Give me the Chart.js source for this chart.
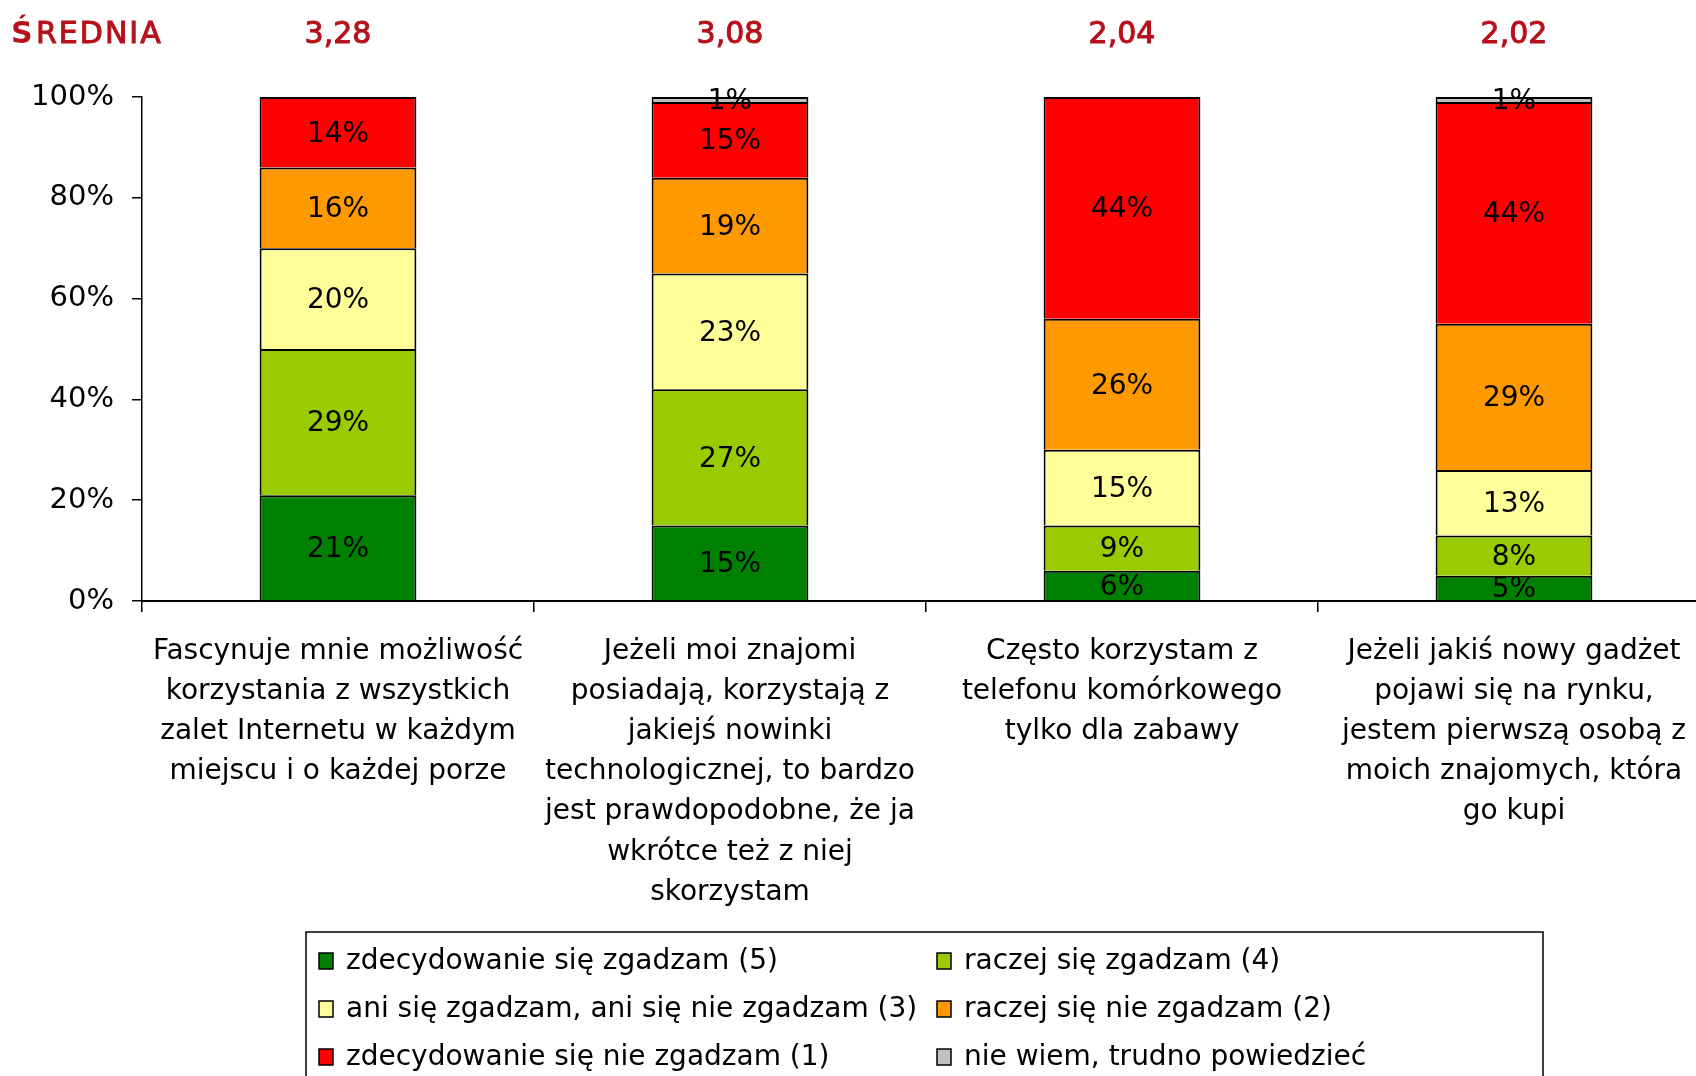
<!DOCTYPE html>
<html lang="pl">
<head>
    <meta charset="UTF-8">
    <title>Średnia - stosunek do nowych technologii</title>
    <script src="https://cdn.jsdelivr.net/npm/chart.js"></script>
    <style>
        html, body { margin: 0; padding: 0; background: #fff; overflow: hidden; }
        .chart-wrap { width: 1712px; height: 1076px; }
    </style>
</head>
<body>
    <div class="chart-wrap">
        <canvas id="chart" width="1712" height="1076"></canvas>
    </div>

    <script>
        // categories (multi-line labels under the bars)
        const categories = [
            ['Fascynuje mnie możliwość', 'korzystania z wszystkich', 'zalet Internetu w każdym', 'miejscu i o każdej porze'],
            ['Jeżeli moi znajomi', 'posiadają, korzystają z', 'jakiejś nowinki', 'technologicznej, to bardzo', 'jest prawdopodobne, że ja', 'wkrótce też z niej', 'skorzystam'],
            ['Często korzystam z', 'telefonu komórkowego', 'tylko dla zabawy'],
            ['Jeżeli jakiś nowy gadżet', 'pojawi się na rynku,', 'jestem pierwszą osobą z', 'moich znajomych, która', 'go kupi']
        ];

        // averages shown above bars
        const averages = ['3,28', '3,08', '2,04', '2,02'];

        // series, bottom to top (percent)
        const stronglyAgree    = [21, 15, 6, 5];
        const ratherAgree      = [29, 27, 9, 8];
        const neither          = [20, 23, 15, 13];
        const ratherDisagree   = [16, 19, 26, 29];
        const stronglyDisagree = [14, 15, 44, 44];
        const dontKnow         = [0, 1, 0, 1];

        const yTicks = [0, 20, 40, 60, 80, 100];

        const FONT = '"DejaVu Sans", sans-serif';
        const DARK_RED = '#B5121B';

        const datasets = [
            { label: 'zdecydowanie się zgadzam (5)', data: stronglyAgree, backgroundColor: '#008000' },
            { label: 'raczej się zgadzam (4)', data: ratherAgree, backgroundColor: '#99CC00' },
            { label: 'ani się zgadzam, ani się nie zgadzam (3)', data: neither, backgroundColor: '#FFFF99' },
            { label: 'raczej się nie zgadzam (2)', data: ratherDisagree, backgroundColor: '#FF9900' },
            { label: 'zdecydowanie się nie zgadzam (1)', data: stronglyDisagree, backgroundColor: '#FF0000' },
            { label: 'nie wiem, trudno powiedzieć', data: dontKnow, backgroundColor: '#C0C0C0' }
        ].map(d => Object.assign(d, {
            borderColor: '#000',
            borderWidth: 2,
            borderSkipped: 'start',
            barPercentage: 0.4,
            categoryPercentage: 1.0
        }));

        // percent labels in the middle of each segment
        const segmentLabels = {
            id: 'segmentLabels',
            afterDatasetsDraw(chart) {
                const ctx = chart.ctx;
                ctx.save();
                ctx.font = '28px ' + FONT;
                ctx.fillStyle = '#000';
                ctx.textAlign = 'center';
                ctx.textBaseline = 'middle';
                chart.data.datasets.forEach((ds, i) => {
                    const meta = chart.getDatasetMeta(i);
                    meta.data.forEach((bar, j) => {
                        const v = ds.data[j];
                        if (!v) return;
                        ctx.fillText(v + '%', bar.x, (bar.y + bar.base) / 2 + 2);
                    });
                });
                ctx.restore();
            }
        };

        // "ŚREDNIA" row + custom boxed legend
        const extras = {
            id: 'extras',
            afterDraw(chart) {
                const ctx = chart.ctx;
                const x = chart.scales.x;
                ctx.save();
                ctx.fillStyle = DARK_RED;
                ctx.strokeStyle = DARK_RED;
                ctx.lineWidth = 1;
                ctx.textBaseline = 'middle';
                ctx.textAlign = 'left';
                ctx.font = 'bold 30px ' + FONT;
                ctx.fillText('Ś', 11, 35);
                ctx.font = '30px ' + FONT;
                ctx.letterSpacing = '2px';
                ctx.fillText('REDNIA', 36, 35);
                ctx.strokeText('REDNIA', 36, 35);
                ctx.letterSpacing = '0px';
                ctx.textAlign = 'center';
                averages.forEach((a, i) => {
                    ctx.fillText(a, x.getPixelForValue(i), 35);
                    ctx.strokeText(a, x.getPixelForValue(i), 35);
                });

                // legend box
                ctx.strokeStyle = '#000';
                ctx.lineWidth = 1.5;
                ctx.strokeRect(306, 932, 1237, 170);
                ctx.font = '28px ' + FONT;
                ctx.textAlign = 'left';
                ctx.fillStyle = '#000';
                const colX = [319, 937];
                chart.data.datasets.forEach((ds, i) => {
                    const cx = colX[i % 2];
                    const cy = 961 + Math.floor(i / 2) * 48;
                    ctx.fillStyle = ds.backgroundColor;
                    ctx.fillRect(cx, cy - 8, 14, 16);
                    ctx.strokeRect(cx, cy - 8, 14, 16);
                    ctx.fillStyle = '#000';
                    ctx.fillText(ds.label, cx + 27, cy + 1);
                });
                ctx.restore();
            }
        };

        new Chart(document.getElementById('chart'), {
            type: 'bar',
            data: { labels: categories, datasets: datasets },
            options: {
                responsive: false,
                animation: false,
                layout: { padding: { top: 97, left: 0, right: 2, bottom: 0 } },
                plugins: {
                    legend: { display: false },
                    tooltip: { enabled: false }
                },
                scales: {
                    x: {
                        stacked: true,
                        afterFit: s => { s.height = 475; },
                        grid: {
                            offset: true,
                            drawOnChartArea: false,
                            drawTicks: true,
                            tickLength: 11,
                            color: '#000',
                            lineWidth: 1.5
                        },
                        border: { display: true, color: '#000', width: 2 },
                        ticks: {
                            color: '#000',
                            font: { family: FONT, size: 28, lineHeight: 1.43 },
                            padding: 20,
                            maxRotation: 0,
                            autoSkip: false
                        }
                    },
                    y: {
                        stacked: true,
                        min: 0,
                        max: 100,
                        afterFit: s => { s.width = 142; },
                        afterBuildTicks: s => { s.ticks = yTicks.map(v => ({ value: v })); },
                        grid: {
                            drawOnChartArea: false,
                            drawTicks: true,
                            tickLength: 10,
                            color: '#000',
                            lineWidth: 1.5
                        },
                        border: { display: true, color: '#000', width: 1.5 },
                        ticks: {
                            color: '#000',
                            font: { family: FONT, size: 29 },
                            padding: 18,
                            callback: v => v + '%'
                        }
                    }
                }
            },
            plugins: [segmentLabels, extras]
        });
    </script>
</body>
</html>
